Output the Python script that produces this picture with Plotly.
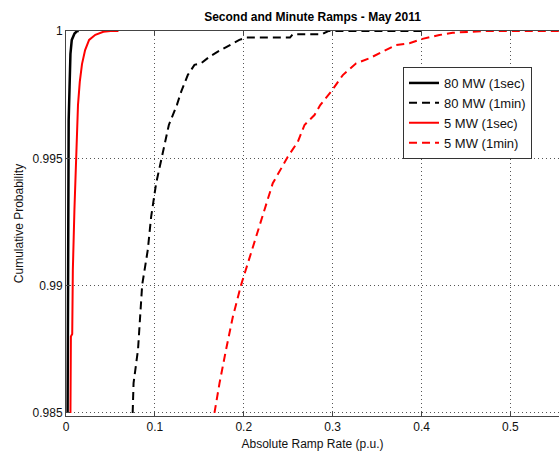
import plotly.graph_objects as go

# Upper tail of the empirical CDFs of absolute ramp rates (p.u.)
ramp_80mw_1sec = [0.0018, 0.0020, 0.0025, 0.0028, 0.0030, 0.0040, 0.0050, 0.0065, 0.0096, 0.0125, 0.0144]
prob_80mw_1sec = [0.985, 0.990, 0.993, 0.9945, 0.9965, 0.9978, 0.9991, 0.99965, 0.9999, 1.0, 1.0]

ramp_80mw_1min = [0.075, 0.076, 0.081, 0.0838, 0.0857, 0.092, 0.0958, 0.1014, 0.108, 0.1157,
                  0.1247, 0.1296, 0.137, 0.1445, 0.152, 0.1614, 0.1708, 0.184, 0.195, 0.2027,
                  0.2064, 0.252, 0.255, 0.288, 0.295, 0.40]
prob_80mw_1min = [0.985, 0.98617, 0.98748, 0.98878, 0.99003, 0.9914, 0.99271, 0.99402, 0.99506, 0.99631,
                  0.99709, 0.99762, 0.99827, 0.99867, 0.99873, 0.99899, 0.99919, 0.99945, 0.99965, 0.99974,
                  0.99974, 0.99974, 0.99987, 0.99987, 1.0, 1.0]

ramp_5mw_1sec = [0.0050, 0.0055, 0.0070, 0.0077, 0.0095, 0.0107, 0.0122, 0.0135, 0.0155, 0.0180,
                 0.0215, 0.0260, 0.0330, 0.0420, 0.0500, 0.0590]
prob_5mw_1sec = [0.985, 0.988, 0.9881, 0.9906, 0.993, 0.9945, 0.9958, 0.9971, 0.998, 0.9987,
                 0.99925, 0.99965, 0.99985, 0.99997, 1.0, 1.0]

ramp_5mw_1min = [0.167, 0.1727, 0.180, 0.1877, 0.197, 0.2034, 0.210, 0.2214, 0.2326, 0.2495,
                 0.2608, 0.2683, 0.2795, 0.286, 0.2983, 0.3114, 0.3264, 0.3414, 0.3564, 0.3714,
                 0.3864, 0.401, 0.420, 0.435, 0.47, 0.5546]
prob_5mw_1min = [0.985, 0.98617, 0.98748, 0.98878, 0.99003, 0.99075, 0.9914, 0.99271, 0.99402, 0.99506,
                 0.99565, 0.99631, 0.9967, 0.99709, 0.99762, 0.99827, 0.99873, 0.99893, 0.99919, 0.99945,
                 0.99952, 0.99969, 0.99984, 0.99993, 1.0, 1.0]

x_ticks = [0, 0.1, 0.2, 0.3, 0.4, 0.5]
x_tick_labels = ["0", "0.1", "0.2", "0.3", "0.4", "0.5"]
y_ticks = [0.985, 0.99, 0.995, 1.0]
y_tick_labels = ["0.985", "0.99", "0.995", "1"]

FONT = "Liberation Sans, Arial, sans-serif"

fig = go.Figure()
fig.add_trace(go.Scatter(x=ramp_80mw_1sec, y=prob_80mw_1sec, mode="lines", name="80 MW (1sec)",
                         line=dict(color="black", width=2.5)))
fig.add_trace(go.Scatter(x=ramp_80mw_1min, y=prob_80mw_1min, mode="lines", name="80 MW (1min)",
                         line=dict(color="black", width=2, dash="8px,5px")))
fig.add_trace(go.Scatter(x=ramp_5mw_1sec, y=prob_5mw_1sec, mode="lines", name="5 MW (1sec)",
                         line=dict(color="red", width=2)))
fig.add_trace(go.Scatter(x=ramp_5mw_1min, y=prob_5mw_1min, mode="lines", name="5 MW (1min)",
                         line=dict(color="red", width=2, dash="8px,5px")))

fig.update_layout(
    width=559, height=454,
    margin=dict(l=66, r=0, t=31, b=38),
    paper_bgcolor="white", plot_bgcolor="white",
    font=dict(family=FONT, size=12, color="#111"),
    title=dict(text="<b>Second and Minute Ramps - May 2011</b>", x=(66 + 559) / 2 / 559,
               xanchor="center", y=1 - 17 / 454, yanchor="middle", font=dict(size=12, color="black")),
    showlegend=True,
    legend=dict(x=0.6836, y=0.9065, xanchor="left", yanchor="top",
                bgcolor="white", bordercolor="#333", borderwidth=1,
                font=dict(size=13, color="#111"), tracegroupgap=0,
                itemwidth=30),
)

GRID_DASH = "1px,3px"

fig.update_xaxes(
    range=[0, 0.5546], tickvals=x_ticks, ticktext=x_tick_labels,
    showline=True, linecolor="#444", linewidth=1, mirror="ticks",
    ticks="inside", ticklen=4, tickcolor="#444",
    showgrid=True, gridcolor="#555", griddash=GRID_DASH, gridwidth=1,
    zeroline=False,
    title=dict(text="Absolute Ramp Rate (p.u.)", standoff=6, font=dict(size=12)),
)
fig.update_yaxes(
    range=[0.98488, 1.0], tickvals=y_ticks, ticktext=y_tick_labels,
    showline=True, linecolor="#444", linewidth=1, mirror=False,
    ticks="inside", ticklen=4, tickcolor="#444",
    showgrid=True, gridcolor="#555", griddash=GRID_DASH, gridwidth=1,
    zeroline=False,
    title=dict(text="Cumulative Probability", standoff=6, font=dict(size=12)),
)

fig.write_html("out.html", config={"displayModeBar": False})
